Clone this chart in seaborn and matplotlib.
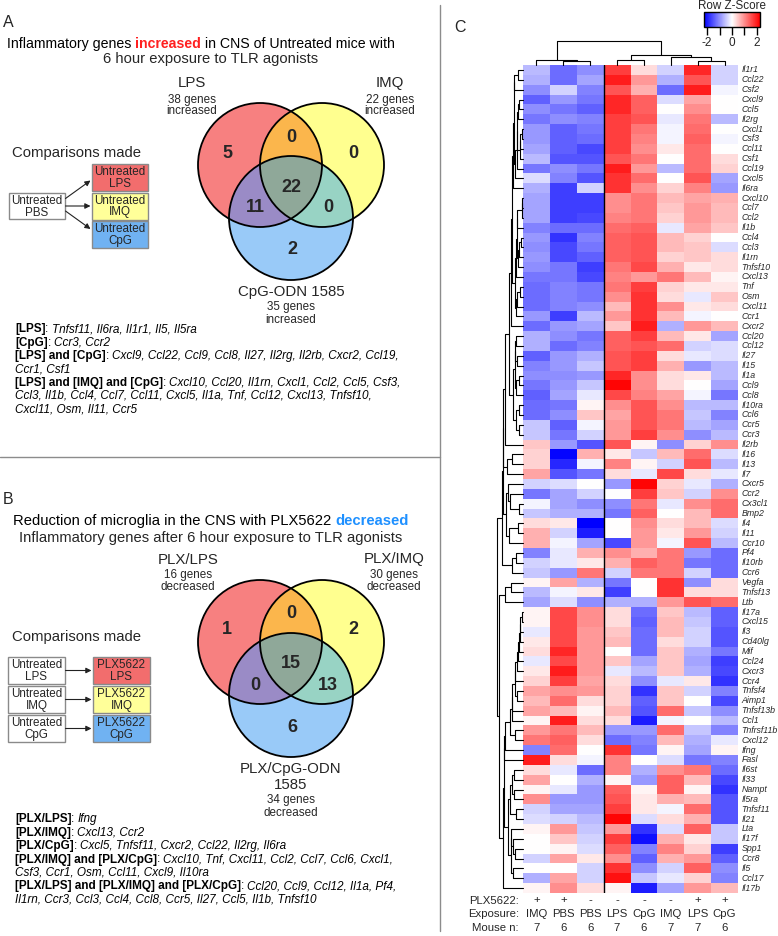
import numpy as np
import pandas as pd
import matplotlib
matplotlib.use("Agg")
import matplotlib.pyplot as plt
import seaborn as sns
from matplotlib.colors import LinearSegmentedColormap
from matplotlib.patches import Circle, Rectangle, Polygon
from matplotlib.font_manager import FontProperties
from matplotlib.transforms import blended_transform_factory

# ---------------- data ----------------
genes = ["Il1r1", "Ccl22", "Csf2", "Cxcl9", "Ccl5", "Il2rg", "Cxcl1", "Csf3", "Ccl11", "Csf1",
         "Ccl19", "Cxcl5", "Il6ra", "Cxcl10", "Ccl7", "Ccl2", "Il1b", "Ccl4", "Ccl3", "Il1rn",
         "Tnfsf10", "Cxcl13", "Tnf", "Osm", "Cxcl11", "Ccr1", "Cxcr2", "Ccl20", "Ccl12", "Il27",
         "Il15", "Il1a", "Ccl9", "Ccl8", "Il10ra", "Ccl6", "Ccr5", "Ccr3", "Il2rb", "Il16",
         "Il13", "Il7", "Cxcr5", "Ccr2", "Cx3cl1", "Bmp2", "Il4", "Il11", "Ccr10", "Pf4",
         "Il10rb", "Ccr6", "Vegfa", "Tnfsf13", "Ltb", "Il17a", "Cxcl15", "Il3", "Cd40lg", "Mif",
         "Ccl24", "Cxcr3", "Ccr4", "Tnfsf4", "Aimp1", "Tnfsf13b", "Ccl1", "Tnfrsf11b", "Cxcl12", "Ifng",
         "Fasl", "Il6st", "Il33", "Nampt", "Il5ra", "Tnfsf11", "Il21", "Lta", "Il17f", "Spp1",
         "Ccr8", "Il5", "Ccl17", "Il17b"]

col_plx = ["+", "+", "-", "-", "-", "-", "+", "+"]
col_exposure = ["IMQ", "PBS", "PBS", "LPS", "CpG", "IMQ", "LPS", "CpG"]
col_mouse_n = [7, 6, 6, 7, 6, 7, 7, 6]

z_imq_plx = [-0.6, -0.7, -1.0, -1.4, -1.0, -1.2, -0.9, -0.9, -0.8, -0.6,
             -1.2, -0.3, -0.7, -0.8, -0.8, -0.8, -1.1, -0.9, -1.0, -0.9,
             -1.0, -1.2, -1.3, -1.3, -1.3, -0.9, -1.3, -0.7, -0.7, -1.4,
             -1.1, -1.0, -1.2, -1.4, -1.3, -1.3, -0.5, -0.5, 0.5, 0.4,
             0.4, 0.8, -0.4, -1.2, -0.1, -0.5, 0.3, 0.7, 0.7, -1.1,
             -0.4, -0.5, 0.1, -0.6, -0.8, 0.1, 0.1, -0.2, 0.2, 0.3,
             -0.2, 0.2, 0.4, 0.8, 0.6, 0.8, 0.1, 0.9, 1.2, -1.1,
             2.0, 0.3, 0.8, 0.1, 1.0, -0.4, -0.3, 0.1, 0.0, 0.0,
             -0.4, 0.0, -0.7, 0.1]
z_pbs_plx = [-1.3, -1.3, -0.4, -0.9, -1.2, -1.0, -1.4, -1.4, -1.4, -1.5,
             -1.0, -1.1, -1.7, -1.7, -1.7, -1.7, -1.3, -1.8, -1.6, -1.6,
             -1.2, -1.2, -1.1, -1.1, -1.1, -1.7, -0.9, -1.0, -1.3, -0.9,
             -0.9, -1.0, -0.9, -0.8, -1.2, -1.0, -1.4, -1.2, -0.9, -2.2,
             -1.9, -1.5, -0.3, -0.8, -0.8, -0.7, 0.2, -0.4, -0.1, -0.2,
             -0.2, -0.9, 0.8, -0.1, -0.3, 1.6, 1.6, 1.6, 1.6, 1.9,
             1.6, 2.0, 1.7, 1.0, 1.3, 0.6, 2.0, 1.2, 1.4, 1.3,
             0.3, -0.2, 0.0, -0.2, -0.9, -0.8, -0.4, 0.9, 0.5, 0.1,
             0.8, 0.0, 0.8, 1.0]
z_pbs = [-1.0, -0.8, -1.1, -1.2, -1.4, -1.1, -1.2, -1.3, -1.6, -1.5,
         -1.2, -1.5, -0.4, -1.7, -1.7, -1.6, -1.3, -1.1, -1.2, -1.4,
         -1.7, -1.6, -1.2, -1.2, -1.0, -0.6, -0.8, -1.2, -1.1, -0.7,
         -0.5, -0.9, -0.5, -0.2, 0.1, 0.5, -0.1, -0.4, -1.5, 0.7,
         -0.1, -1.2, 0.0, -0.4, -1.0, -0.7, -2.3, -2.0, -0.8, 0.7,
         0.2, 1.2, -0.7, 0.2, -1.0, 1.0, 1.0, 0.9, 0.9, 0.9,
         0.9, 0.9, 0.8, 0.9, 0.3, 0.1, 0.3, 0.6, 0.3, 0.0,
         -0.1, -1.3, -0.7, -0.9, -0.9, -0.8, -0.6, -0.5, -0.4, -0.3,
         0.2, -0.4, -0.4, 0.3]
z_lps = [1.7, 2.0, 1.5, 1.9, 1.9, 1.7, 1.7, 1.7, 1.7, 1.5,
         2.0, 1.8, 1.8, 1.0, 1.0, 1.1, 1.3, 1.4, 1.4, 1.4,
         1.2, 1.1, 1.2, 1.0, 0.6, 0.9, 0.5, 1.4, 1.4, 1.5,
         1.5, 1.9, 2.2, 1.6, 1.0, 0.8, 0.9, 0.9, 1.5, 0.2,
         1.1, 0.3, -0.9, 0.0, -1.0, -1.2, 0.0, 0.0, -1.6, 1.0,
         0.7, -0.4, -1.2, -1.7, -0.7, 0.3, 0.3, 0.5, 0.6, 0.0,
         0.5, -0.2, 0.3, 0.4, 0.4, 0.6, 0.3, -0.9, -1.3, 1.8,
         1.1, 1.1, 0.1, 1.4, 1.5, 1.7, 2.2, 0.9, 1.7, 1.4,
         1.0, 1.8, 2.1, 0.1]
z_cpg = [0.3, 0.9, 0.7, 1.4, 1.4, 1.5, 1.2, 1.1, 1.0, 1.2,
         0.9, 1.3, 1.0, 1.2, 1.2, 1.2, 1.4, 1.5, 1.5, 1.5,
         1.6, 0.9, 1.7, 1.8, 1.8, 1.8, 2.0, 1.7, 1.5, 1.7,
         1.7, 1.0, 1.0, 1.1, 1.5, 1.5, 1.5, 1.7, 0.1, -0.5,
         0.1, -0.2, 2.2, 1.7, 1.2, 1.4, 1.0, 0.9, 0.9, 0.7,
         1.4, 1.2, 0.0, 0.0, -0.7, -1.3, -1.4, -1.3, -1.3, -1.3,
         -0.8, -0.6, -1.0, -1.8, -1.4, -1.5, -2.0, -0.9, -1.1, -1.2,
         0.0, -0.7, -0.9, 0.1, 0.2, 0.2, -0.3, -1.8, -2.1, -1.1,
         -1.4, -1.0, -0.5, -2.0]
z_imq = [-0.4, -0.7, -1.3, -0.3, 0.0, -0.2, -0.1, -0.1, 0.2, 0.0,
         -0.6, 0.0, 0.4, 0.6, 0.5, 0.4, -0.2, 0.6, 0.6, 0.4,
         0.7, 1.2, 0.4, 0.3, 1.0, 0.6, -0.7, 0.6, 1.3, 0.3,
         0.7, 0.3, 0.3, 0.8, 1.0, 1.2, 1.2, 1.0, -1.0, 0.6,
         -0.4, 1.6, 0.4, 0.5, -0.2, 0.0, 0.3, 0.2, -0.1, 1.2,
         1.2, 1.2, 1.8, 1.8, 0.9, 0.5, 0.6, 0.6, 0.3, 0.5,
         0.5, 0.5, -0.2, 0.5, 0.5, 1.3, -0.1, 1.3, 0.6, 0.1,
         -0.3, 1.0, 1.4, 1.4, 0.7, -0.1, 0.3, -0.3, 0.7, 1.1,
         0.7, -0.4, -0.2, -0.8]
z_lps_plx = [1.9, 1.5, 2.0, 0.8, 1.0, 1.2, 1.3, 1.4, 1.3, 1.3,
             1.3, 1.5, 1.1, 0.8, 0.9, 0.9, 0.8, 0.4, 0.5, 0.5,
             0.2, 0.6, 0.2, -0.2, 0.2, -0.1, 0.9, 0.2, -0.4, -0.2,
             -0.9, 0.2, 0.0, -0.1, -0.6, -0.5, -0.6, -1.0, 0.4, 1.3,
             1.5, 0.3, -0.2, -0.4, 1.0, 0.6, 0.6, 0.9, 1.5, -0.9,
             -1.2, -0.4, -1.0, 0.3, 1.5, -0.6, -0.5, -0.4, -0.4, -0.7,
             -0.8, -0.7, 0.2, -0.4, 0.0, -0.5, 0.0, -0.5, -0.7, -0.8,
             -1.2, 1.2, 0.6, 0.1, 0.6, 1.3, 0.7, 1.4, 0.2, 0.4,
             0.9, 1.4, 0.4, 0.9]
z_cpg_plx = [-0.4, -0.4, -0.1, 0.0, 0.0, -0.6, 0.0, -0.1, 0.0, 0.3,
             0.4, -0.8, -0.9, 0.7, 0.6, 0.6, 0.5, 0.0, -0.3, 0.3,
             0.3, 0.1, 0.2, 0.5, 0.3, 0.0, 0.6, -0.8, -0.3, -0.3,
             -0.6, -0.6, -0.8, -1.2, -0.6, -1.1, -0.8, -0.6, 1.0, -0.3,
             -0.6, -0.2, -0.7, 1.0, 1.3, 1.3, -0.3, -0.4, -0.6, -1.3,
             -1.3, -1.3, 0.3, 0.3, 1.3, -1.4, -1.4, -1.5, -1.5, -1.2,
             -1.7, -1.6, -1.8, -1.1, -1.6, -1.0, -0.6, -1.1, -0.2, 0.1,
             -1.1, -1.3, -1.6, -1.8, -1.5, -1.5, -1.5, -0.5, -0.5, -1.7,
             -1.4, -1.0, -1.1, 0.6]

# column dendrogram merges (child a, child b, height)
col_merges = [(1, 2, 4.0), (0, 8, 5.0), (6, 7, 3.5), (3, 4, 5.0),
              (5, 10, 8.0), (11, 12, 9.5), (9, 13, 23.3)]

# Venn diagram counts: [A only, A&B, B only, A&C, A&B&C, B&C, C only]
venn_a_counts = [5, 0, 0, 11, 22, 0, 2]
venn_b_counts = [1, 0, 2, 0, 15, 13, 6]
venn_a_sets = [("LPS", "38 genes", "increased"), ("IMQ", "22 genes", "increased"),
               ("CpG-ODN 1585", "35 genes", "increased")]
venn_b_sets = [("PLX/LPS", "16 genes", "decreased"), ("PLX/IMQ", "30 genes", "decreased"),
               ("PLX/CpG-ODN\n1585", "34 genes", "decreased")]

genes_a_lines = [
    [("[LPS]", "b"), (": ", "r"), ("Tnfsf11, Il6ra, Il1r1, Il5, Il5ra", "i")],
    [("[CpG]", "b"), (": ", "r"), ("Ccr3, Ccr2", "i")],
    [("[LPS] and [CpG]", "b"), (": ", "r"), ("Cxcl9, Ccl22, Ccl9, Ccl8, Il27, Il2rg, Il2rb, Cxcr2, Ccl19,", "i")],
    [("Ccr1, Csf1", "i")],
    [("[LPS] and [IMQ] and [CpG]", "b"), (": ", "r"), ("Cxcl10, Ccl20, Il1rn, Cxcl1, Ccl2, Ccl5, Csf3,", "i")],
    [("Ccl3, Il1b, Ccl4, Ccl7, Ccl11, Cxcl5, Il1a, Tnf, Ccl12, Cxcl13, Tnfsf10,", "i")],
    [("Cxcl11, Osm, Il11, Ccr5", "i")],
]
genes_b_lines = [
    [("[PLX/LPS]", "b"), (": ", "r"), ("Ifng", "i")],
    [("[PLX/IMQ]", "b"), (": ", "r"), ("Cxcl13, Ccr2", "i")],
    [("[PLX/CpG]", "b"), (": ", "r"), ("Cxcl5, Tnfsf11, Cxcr2, Ccl22, Il2rg, Il6ra", "i")],
    [("[PLX/IMQ] and [PLX/CpG]", "b"), (": ", "r"), ("Cxcl10, Tnf, Cxcl11, Ccl2, Ccl7, Ccl6, Cxcl1,", "i")],
    [("Csf3, Ccr1, Osm, Ccl11, Cxcl9, Il10ra", "i")],
    [("[PLX/LPS] and [PLX/IMQ] and [PLX/CpG]", "b"), (": ", "r"), ("Ccl20, Ccl9, Ccl12, Il1a, Pf4,", "i")],
    [("Il1rn, Ccr3, Ccl3, Ccl4, Ccl8, Ccr5, Il27, Ccl5, Il1b, Tnfsf10", "i")],
]

# ---------------- setup ----------------
sns.set_theme(style="white")
FAM = ["Liberation Sans", "DejaVu Sans"]
plt.rcParams["font.family"] = FAM

W, H = 778, 936
fig = plt.figure(figsize=(W / 100, H / 100), dpi=100)
fig.patch.set_facecolor("white")
renderer = fig.canvas.get_renderer()

bg = fig.add_axes([0, 0, 1, 1])
bg.set_xlim(0, W)
bg.set_ylim(H, 0)
bg.axis("off")

STY = {"b": dict(weight="bold", style="normal"),
       "i": dict(weight="normal", style="italic"),
       "r": dict(weight="normal", style="normal")}

T_TITLE = 10.6
T_SET = 10.8
T_SUB = 8.4
T_NUM = 13
T_COMP = 10.7
T_BOX = 8.4
T_LIST = 8.5
T_PANEL = 11.5


def text_width(s, size, weight="normal", style="normal"):
    fp = FontProperties(family=FAM, size=size, weight=weight, style=style)
    w1 = renderer.get_text_width_height_descent(s + "|", fp, False)[0]
    w0 = renderer.get_text_width_height_descent("|", fp, False)[0]
    return w1 - w0


def rich(x, y, pieces, size, ha="left", colors=None):
    widths = [text_width(s, size, **STY[st]) for s, st in pieces]
    total = sum(widths)
    x0 = x - total / 2 if ha == "center" else x
    for k, (s, st) in enumerate(pieces):
        col = colors[k] if colors else "black"
        bg.text(x0, y, s, fontsize=size, color=col, ha="left", va="baseline", **STY[st])
        x0 += widths[k]


def circle_pts(c, r, n=720):
    t = np.linspace(0, 2 * np.pi, n, endpoint=False)
    return np.column_stack([c[0] + r * np.cos(t), c[1] + r * np.sin(t)])


def intersection_poly(cs, r):
    pts = []
    for i, c in enumerate(cs):
        p = circle_pts(c, r)
        keep = np.ones(len(p), bool)
        for j, o in enumerate(cs):
            if j != i:
                keep &= np.hypot(p[:, 0] - o[0], p[:, 1] - o[1]) <= r + 1e-6
        pts.append(p[keep])
    pts = np.vstack(pts)
    m = pts.mean(axis=0)
    ang = np.arctan2(pts[:, 1] - m[1], pts[:, 0] - m[0])
    return pts[np.argsort(ang)]


def venn(dy, counts):
    r = 62
    c1, c2, c3 = (260, 165 + dy), (322, 165 + dy), (291, 218 + dy)
    cols = ["#f78080", "#ffff8f", "#99caf8"]
    for c, col in zip([c1, c2, c3], cols):
        bg.add_patch(Circle(c, r, fc=col, ec="none", zorder=1))
    for pair, col in [((c1, c2), "#fbb64c"), ((c1, c3), "#9a8bc6"), ((c2, c3), "#98d3c4")]:
        bg.add_patch(Polygon(intersection_poly(pair, r), closed=True, fc=col, ec="none", zorder=1.1))
    bg.add_patch(Polygon(intersection_poly((c1, c2, c3), r), closed=True, fc="#8fa899", ec="none", zorder=1.2))
    for c in [c1, c2, c3]:
        bg.add_patch(Circle(c, r, fill=False, ec="black", lw=1.3, zorder=2))
    num_pos = [(227, 153), (291, 137), (353, 153), (255, 208), (291, 187), (328, 208), (292, 250)]
    for (px, py), v in zip(num_pos, counts):
        bg.text(px, py + dy, str(v), fontsize=T_NUM, weight="bold", ha="center", va="center", zorder=3)


def comp_box(x0, y0, w, h, txt, fc):
    bg.add_patch(Rectangle((x0, y0), w, h, fc=fc, ec="#8a8a8a", lw=1.0, zorder=2))
    bg.text(x0 + w / 2, y0 + h / 2 + 0.5, txt, fontsize=T_BOX, ha="center", va="center",
            linespacing=1.0, zorder=3)


def arrow(x0, y0, x1, y1):
    bg.annotate("", xy=(x1, y1), xytext=(x0, y0),
                arrowprops=dict(arrowstyle="-|>", color="#222222", lw=0.8,
                                mutation_scale=8, shrinkA=0, shrinkB=0))


BOX_COLS = ["#f26d6d", "#ffff99", "#70b2f2"]

# ---------------- Panel A ----------------
bg.text(3, 27, "A", fontsize=T_PANEL, ha="left", va="baseline")
rich(201, 48.3, [("Inflammatory genes ", "r"), ("increased", "b"), (" in CNS of Untreated mice with", "r")],
     10.15, ha="center", colors=["black", "#ff2020", "black"])
bg.text(211, 63.3, "6 hour exposure to TLR agonists", fontsize=T_TITLE, ha="center", va="baseline")

venn(0, venn_a_counts)
for (name, n, w), cx in zip(venn_a_sets[:2], [192, 390]):
    bg.text(cx, 82.7, name, fontsize=T_SET, ha="center", va="center")
    bg.text(cx, 99.5, n, fontsize=T_SUB, ha="center", va="center")
    bg.text(cx, 111.5, w, fontsize=T_SUB, ha="center", va="center")
bg.text(291, 292, venn_a_sets[2][0], fontsize=T_SET, ha="center", va="center")
bg.text(291, 307, venn_a_sets[2][1], fontsize=T_SUB, ha="center", va="center")
bg.text(291, 320, venn_a_sets[2][2], fontsize=T_SUB, ha="center", va="center")

bg.text(77, 152.5, "Comparisons made", fontsize=T_COMP, ha="center", va="center")
comp_box(9, 193, 56, 26, "Untreated\nPBS", "white")
for k, (ex, fc) in enumerate(zip(["LPS", "IMQ", "CpG"], BOX_COLS)):
    y0 = 164 + k * 28.5
    comp_box(92, y0, 56, 27, "Untreated\n" + ex, fc)
arrow(65.5, 198.5, 90.5, 180.5)
arrow(65.5, 206, 90.5, 206)
arrow(65.5, 211, 90.5, 229)

for k, line in enumerate(genes_a_lines):
    rich(15, 332.3 + k * 13.33, line, T_LIST)

# separators
bg.plot([0, 440], [457, 457], color="#8c8c8c", lw=1.0)
bg.plot([440, 440], [5, 931], color="#8c8c8c", lw=1.0)

# ---------------- Panel B ----------------
DY = 477
bg.text(3, 504, "B", fontsize=T_PANEL, ha="left", va="baseline")
rich(211, 525, [("Reduction of microglia in the CNS with PLX5622 ", "r"), ("decreased", "b")],
     T_TITLE, ha="center", colors=["black", "#1e90ff"])
bg.text(211, 541.7, "Inflammatory genes after 6 hour exposure to TLR agonists", fontsize=T_TITLE,
        ha="center", va="baseline")

venn(DY, venn_b_counts)
for (name, n, w), cx in zip(venn_b_sets[:2], [188, 394]):
    bg.text(cx, 559.5, name, fontsize=T_SET, ha="center", va="center")
    bg.text(cx, 575, n, fontsize=T_SUB, ha="center", va="center")
    bg.text(cx, 587, w, fontsize=T_SUB, ha="center", va="center")
nm1, nm2 = venn_b_sets[2][0].split("\n")
bg.text(291, 769, nm1, fontsize=T_SET, ha="center", va="center")
bg.text(291, 785, nm2, fontsize=T_SET, ha="center", va="center")
bg.text(291, 800.5, venn_b_sets[2][1], fontsize=T_SUB, ha="center", va="center")
bg.text(291, 813, venn_b_sets[2][2], fontsize=T_SUB, ha="center", va="center")

bg.text(77, 637.5, "Comparisons made", fontsize=T_COMP, ha="center", va="center")
for k, (ex, fc) in enumerate(zip(["LPS", "IMQ", "CpG"], BOX_COLS)):
    y0 = 657 + k * 29
    comp_box(8, y0, 57, 27, "Untreated\n" + ex, "white")
    comp_box(93, y0, 57, 27, "PLX5622\n" + ex, fc)
    arrow(65.5, y0 + 13.5, 91.5, y0 + 13.5)

for k, line in enumerate(genes_b_lines):
    rich(15, 822.3 + k * 13.4, line, T_LIST)

# ---------------- Panel C ----------------
bg.text(454, 32, "C", fontsize=T_PANEL, ha="left", va="baseline")

cols = [f"{e}{p}" for e, p in zip(col_exposure, col_plx)]
df = pd.DataFrame(np.column_stack([z_imq_plx, z_pbs_plx, z_pbs, z_lps, z_cpg, z_imq,
                                   z_lps_plx, z_cpg_plx]), index=genes, columns=cols)

HX0, HX1, HY0, HY1 = 523, 738, 65, 893
ax = fig.add_axes([HX0 / W, 1 - HY1 / H, (HX1 - HX0) / W, (HY1 - HY0) / H])
cax = fig.add_axes([704 / W, 1 - 27 / H, 56 / W, 15 / H])
cmap = LinearSegmentedColormap.from_list("bwr_z", ["#0000ff", "#ffffff", "#ff0000"])
sns.heatmap(df, ax=ax, cmap=cmap, vmin=-2.25, vmax=2.25, cbar_ax=cax,
            cbar_kws={"orientation": "horizontal", "ticks": [-2, -1, 0, 1, 2]},
            xticklabels=False, yticklabels=True, linewidths=0)
ax.axvline(3, color="black", lw=1.0)
ax.yaxis.set_ticks_position("right")
ax.tick_params(axis="y", length=0, pad=2.5, labelsize=6.3, labelright=True, labelleft=False)
for lbl in ax.get_yticklabels():
    lbl.set_fontstyle("italic")
    lbl.set_rotation(0)
    lbl.set_va("center")
ax.set_xlabel("")
ax.set_ylabel("")

cbar = ax.collections[0].colorbar
cbar.outline.set_visible(True)
cbar.outline.set_linewidth(1.0)
cbar.outline.set_edgecolor("black")
cax.set_xticklabels(["-2", "", "0", "", "2"])
cax.xaxis.set_ticks_position("bottom")
cax.tick_params(axis="x", length=6, width=1, color="black", direction="out",
                labelsize=8.5, pad=1, bottom=True)
fig.text(732 / W, 1 - 6 / H, "Row Z-Score", fontsize=8.4, ha="center", va="center")

# column annotations
tr = blended_transform_factory(ax.transData, bg.transData)
for lab, yy, vals in [("PLX5622:", 900.5, col_plx), ("Exposure:", 914, col_exposure),
                      ("Mouse n:", 928, [str(v) for v in col_mouse_n])]:
    bg.text(519, yy, lab, fontsize=8.2, ha="right", va="center")
    for j, v in enumerate(vals):
        ax.text(j + 0.5, yy, v, fontsize=8.2, ha="center", va="center", transform=tr, clip_on=False)


# ---------------- dendrograms ----------------
def ordered_average_linkage(X):
    n = len(X)
    D = np.sqrt(((X[:, None, :] - X[None, :, :]) ** 2).sum(-1))
    clusters = [[i] for i in range(n)]
    ids = list(range(n))
    merges = []
    nxt = n
    while len(clusters) > 1:
        best = None
        for k in range(len(clusters) - 1):
            d = D[np.ix_(clusters[k], clusters[k + 1])].mean()
            if best is None or d < best[0]:
                best = (d, k)
        d, k = best
        merges.append((ids[k], ids[k + 1], d))
        clusters[k] = clusters[k] + clusters[k + 1]
        del clusters[k + 1]
        ids[k] = nxt
        del ids[k + 1]
        nxt += 1
    return merges


def draw_dendro(axd, merges, n, orient):
    pos = {i: i + 0.5 for i in range(n)}
    hgt = {i: 0.0 for i in range(n)}
    nid = n
    for a, b, h in merges:
        h = max(h, hgt[a], hgt[b])
        xs = [hgt[a], h, h, hgt[b]]
        ys = [pos[a], pos[a], pos[b], pos[b]]
        if orient == "left":
            axd.plot(xs, ys, color="black", lw=0.8, clip_on=False)
        else:
            axd.plot(ys, xs, color="black", lw=0.8, clip_on=False)
        pos[nid] = (pos[a] + pos[b]) / 2
        hgt[nid] = h
        nid += 1
    return max(hgt.values())


axr = fig.add_axes([497 / W, 1 - HY1 / H, (HX0 - 497) / W, (HY1 - HY0) / H])
row_merges = ordered_average_linkage(df.values)
hmax = draw_dendro(axr, row_merges, len(genes), "left")
axr.set_xlim(hmax, 0)
axr.set_ylim(len(genes), 0)
axr.axis("off")

axc = fig.add_axes([HX0 / W, 1 - HY0 / H, (HX1 - HX0) / W, 24 / H])
draw_dendro(axc, col_merges, 8, "top")
axc.set_xlim(0, 8)
axc.set_ylim(0, 23.3)
axc.axis("off")

fig.savefig("out.png", dpi=100, facecolor="white")
